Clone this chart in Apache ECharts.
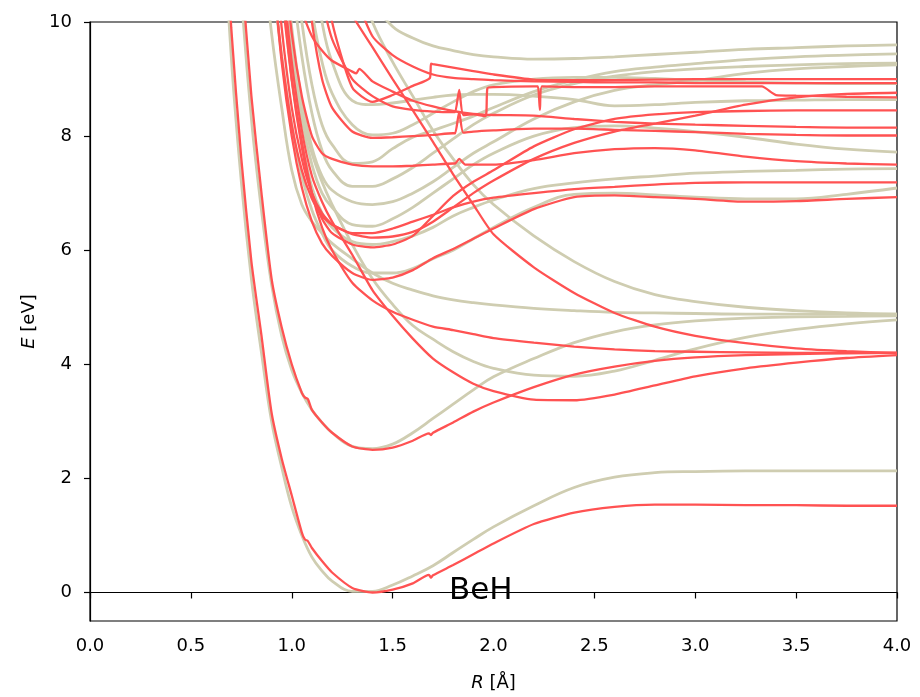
<!DOCTYPE html>
<html>
<head>
<meta charset="utf-8">
<script src="https://cdn.jsdelivr.net/npm/echarts@6/dist/echarts.min.js"></script>
<style>
html,body{margin:0;padding:0;background:#fff;}
#chart{width:920px;height:697px;}
</style>
</head>
<body>
<div id="chart"></div>
<script>
// Shared bond-length grid R [Å]
const R = [0.65,0.7,0.75,0.8,0.85,0.9,0.95,1.0,1.05,1.1,1.15,1.2,1.3,1.4,1.5,1.6,1.7,1.8,1.9,2.0,2.2,2.4,2.6,2.8,3.0,3.25,3.5,3.75,4.0];
const n = null;
const xTicks = [0,0.5,1,1.5,2,2.5,3,3.5,4];
const yTicks = [0,2,4,6,8,10];

// Reference curves (beige)
const bG1  = [12.5,9.4,7.2,5.5,4.2,3.0,2.2,1.5,1.0,0.62,0.38,0.2,0.02,0.02,0.13,0.29,0.47,0.7,0.93,1.15,1.52,1.84,2.02,2.1,2.12,2.13,2.13,2.13,2.13];
const bG2  = [n,13.5,10.5,8.3,6.7,5.4,4.5,3.9,3.5,3.2,2.98,2.8,2.56,2.52,2.6,2.8,3.05,3.3,3.55,3.78,4.1,4.38,4.57,4.69,4.76,4.81,4.83,4.84,4.85];
const bB3  = [n,n,n,n,11.5,9.8,8.5,7.4,6.8,6.5,6.3,6.12,5.85,5.6,5.42,5.3,5.2,5.13,5.08,5.04,4.98,4.94,4.91,4.9,4.89,4.88,4.88,4.88,4.88];
const bB4  = [n,n,n,n,n,n,10.6,9.3,8.4,7.7,7.2,6.8,6.1,5.5,5.05,4.68,4.44,4.22,4.05,3.93,3.81,3.79,3.88,4.07,4.27,4.47,4.61,4.71,4.78];
const bB5  = [n,n,n,n,n,n,n,n,n,n,n,12.5,11,10.0,9.3,8.7,8.1,7.6,7.15,6.8,6.25,5.8,5.45,5.22,5.1,5.0,4.94,4.9,4.88];
const bB6  = [n,n,n,n,n,11.0,9.4,8.2,7.3,6.7,6.3,6.0,5.72,5.6,5.6,5.68,5.85,6.0,6.2,6.4,6.75,6.98,7.0,6.97,6.93,6.9,6.9,6.98,7.09];
const bB7  = [n,n,n,n,n,n,10.8,9.0,7.9,7.1,6.65,6.4,6.15,6.1,6.15,6.25,6.4,6.6,6.75,6.88,7.08,7.18,7.25,7.3,7.35,7.38,7.4,7.42,7.43];
const bB8  = [n,n,n,n,n,n,11.5,9.6,8.3,7.5,7.0,6.75,6.45,6.42,6.55,6.75,7.0,7.25,7.5,7.7,8.0,8.15,8.18,8.14,8.08,7.98,7.86,7.77,7.72];
const bB13 = [n,n,n,n,n,n,11.8,9.9,8.6,7.8,7.3,7.05,6.85,6.8,6.85,7.0,7.2,7.45,7.7,7.9,8.3,8.6,8.8,8.9,8.97,9.1,9.18,9.22,9.25];
const bB12 = [n,n,n,n,n,n,n,10.8,9.4,8.4,7.75,7.4,7.12,7.12,7.25,7.45,7.7,7.95,8.2,8.4,8.72,8.92,9.05,9.13,9.18,9.22,9.25,9.27,9.28];
const bB11 = [n,n,n,n,n,n,n,11.5,10.0,8.9,8.2,7.85,7.52,7.55,7.78,7.98,8.1,8.22,8.35,8.5,8.78,8.98,9.13,9.21,9.27,9.34,9.39,9.42,9.44];
const bB14 = [n,n,n,n,n,n,n,n,11.5,10.2,9.3,8.75,8.2,8.02,8.05,8.2,8.4,8.6,8.78,8.9,9.0,9.03,9.03,9.01,8.98,8.95,8.93,8.92,8.92];
const bB9  = [n,n,n,n,n,n,n,n,n,11.2,10.0,9.3,8.62,8.55,8.58,8.63,8.68,8.72,8.73,8.73,8.7,8.64,8.53,8.55,8.59,8.62,8.63,8.64,8.64];
const bB10 = [n,n,n,n,n,n,n,n,n,n,n,n,11.5,10.4,9.92,9.72,9.58,9.5,9.43,9.39,9.35,9.36,9.39,9.43,9.47,9.52,9.55,9.58,9.6];

// Computed curves (red)
const rG1 = [13,9.9,7.6,5.8,4.5,3.15,2.35,1.7,1.05,0.78,0.55,0.35,0.08,0.0,0.05,0.16,0.3,0.48,0.67,0.86,1.2,1.4,1.5,1.54,1.54,1.53,1.53,1.52,1.52];
const rG2 = [n,14,11,8.7,7.0,5.5,4.65,4.0,3.5,3.2,2.98,2.8,2.56,2.5,2.54,2.66,2.8,2.98,3.17,3.33,3.6,3.82,3.96,4.06,4.12,4.16,4.18,4.19,4.2];
const rG3 = [n,n,n,n,n,13,11,9.3,8.1,7.3,6.85,6.5,5.92,5.3,4.85,4.45,4.1,3.86,3.66,3.53,3.38,3.37,3.47,3.63,3.79,3.93,4.03,4.11,4.16];
const rG4 = [n,n,n,n,n,12,10.5,9.0,7.9,7.0,6.4,6.0,5.43,5.12,4.92,4.78,4.66,4.6,4.53,4.46,4.38,4.31,4.26,4.23,4.22,4.21,4.2,4.2,4.2];
const rG5 = [n,n,n,n,n,n,n,n,n,n,n,10.9,10.12,9.56,9.0,8.45,7.9,7.33,6.8,6.28,5.7,5.25,4.9,4.66,4.5,4.37,4.28,4.23,4.2];
const rRa = [n,n,n,n,n,11.2,9.3,8.0,7.1,6.5,6.12,5.9,5.6,5.48,5.52,5.65,5.86,6.02,6.2,6.38,6.72,6.93,6.96,6.93,6.9,6.85,6.86,6.9,6.93];
const rRb = [n,n,n,n,n,11.0,9.4,8.2,7.4,6.9,6.6,6.45,6.3,6.3,6.38,6.5,6.62,6.75,6.85,6.92,7.0,7.07,7.11,7.15,7.18,7.19,7.19,7.19,7.19];
const rRd = [n,n,n,n,n,11.8,9.9,8.5,7.6,7.0,6.65,6.45,6.28,6.22,6.24,6.32,6.5,6.75,7.0,7.22,7.6,7.88,8.08,8.22,8.36,8.55,8.68,8.74,8.76];
const rRe = [n,n,n,n,n,n,10.8,9.0,7.8,7.0,6.55,6.3,6.1,6.05,6.1,6.25,6.6,6.95,7.2,7.4,7.82,8.12,8.3,8.38,8.42,8.44,8.45,8.45,8.45];
const rRc = [n,n,n,n,n,n,11.5,9.8,8.7,8.0,7.7,7.6,7.5,7.47,7.47,7.48,7.5,7.52,7.5,7.5,7.58,7.7,7.77,7.79,7.75,7.64,7.56,7.52,7.5];
const rRg = [n,n,n,n,n,n,n,n,11.5,10.0,9.0,8.5,8.08,7.97,7.98,8.0,8.02,8.05,8.08,8.1,8.13,8.13,8.11,8.09,8.07,8.04,8.02,8.01,8.01];
const rRf = [n,n,n,n,n,n,n,11.0,10.2,9.75,9.5,9.32,9.13,8.96,8.78,8.62,8.52,8.44,8.39,8.37,8.36,8.3,8.25,8.22,8.2,8.18,8.16,8.15,8.15];
const rRj = [n,n,n,n,n,n,n,n,n,11.5,10.4,9.7,9.0,8.7,8.52,8.46,8.43,8.42,8.38,8.86,8.87,8.86,8.86,8.87,8.87,8.87,8.71,8.69,8.68];
const rRh = [n,n,n,n,n,n,n,n,n,n,11.2,10.0,8.85,8.6,8.72,8.88,9.26,9.2,9.14,9.08,8.99,8.98,8.98,8.99,9.0,9.0,9.0,9.0,9.0];
const rRk = [n,n,n,n,n,n,n,n,n,n,n,n,10.6,9.75,9.42,9.22,9.08,9.02,9.0,8.98,8.96,8.95,8.94,8.94,8.93,8.93,8.93,8.93,8.93];

// Extra kink / jump points of the computed curves [R, E]
const rG1_k = [[1.065,0.93],[1.08,0.9],[1.68,0.31],[1.69,0.26]];
const rG2_k = [[1.065,3.42],[1.08,3.39],[1.68,2.79],[1.69,2.76]];
const rRc_k = [[1.81,7.52],[1.83,7.6],[1.86,7.5]];
const rRg_k = [[1.81,8.05],[1.83,8.42],[1.85,8.06]];
const rRf_k = [[1.32,9.1],[1.335,9.18]];
const rRj_k = [[1.81,8.42],[1.83,8.81],[1.85,8.37],[1.96,8.35],[1.97,8.84],[2.22,8.87],[2.23,8.46],[2.24,8.87],[3.33,8.87],[3.4,8.72]];
const rRh_k = [[1.685,9.02],[1.69,9.27]];

const beigeCurves = [bG1,bG2,bB3,bB4,bB5,bB6,bB7,bB8,bB13,bB12,bB11,bB14,bB9,bB10];
const redCurves = [
  [rG1,rG1_k],[rG2,rG2_k],[rG3,[]],[rG4,[]],[rG5,[]],
  [rRa,[]],[rRb,[]],[rRd,[]],[rRe,[]],[rRc,rRc_k],[rRg,rRg_k],
  [rRf,rRf_k],[rRj,rRj_k],[rRh,rRh_k],[rRk,[]]
];

function build(vals, extra){
  const pts = R.map((x,i)=>[x, vals[i]]).filter(p=>p[1]!==null);
  return pts.concat(extra || []).sort((a,b)=>a[0]-b[0]);
}

const BEIGE = '#cfcdb1';
const RED = '#ff5252';
const series = [];
beigeCurves.forEach(c=>{
  series.push({type:'line', data:build(c,[]), showSymbol:false, symbol:'none',
    smooth:0.4, lineStyle:{color:BEIGE,width:2.8}, z:2, silent:true});
});
redCurves.forEach(([c,k])=>{
  series.push({type:'line', data:build(c,k), showSymbol:false, symbol:'none',
    smooth:0.2, lineStyle:{color:RED,width:2.3}, z:3, silent:true});
});

const FONT = 'DejaVu Sans';
const chart = echarts.init(document.getElementById('chart'), null, {renderer:'canvas'});
chart.setOption({
  animation:false,
  backgroundColor:'#fff',
  grid:{left:90,right:23,top:22,bottom:75,show:true,borderColor:'#000',borderWidth:1.2,backgroundColor:'transparent'},
  xAxis:{type:'value',min:0,max:4,interval:0.5,
    name:'{i|R} [Å]',nameLocation:'middle',nameGap:53,
    nameTextStyle:{fontFamily:FONT,fontSize:18,color:'#000',rich:{i:{fontStyle:'italic',fontFamily:FONT,fontSize:18,color:'#000'}}},
    axisLine:{show:true,lineStyle:{color:'#000',width:1.2}},
    axisTick:{show:true,inside:false,length:6,lineStyle:{color:'#000',width:1.2}},
    axisLabel:{margin:16,fontFamily:FONT,fontSize:18,color:'#000',formatter:v=>v.toFixed(1)},
    splitLine:{show:false}},
  yAxis:{type:'value',min:-0.5,max:10,
    name:'{i|E} [eV]',nameLocation:'middle',nameGap:52,nameRotate:90,
    nameTextStyle:{fontFamily:FONT,fontSize:18,color:'#000',rich:{i:{fontStyle:'italic',fontFamily:FONT,fontSize:18,color:'#000'}}},
    axisLine:{show:true,lineStyle:{color:'#000',width:1.2}},
    axisTick:{show:true,inside:false,length:6,customValues:yTicks,lineStyle:{color:'#000',width:1.2}},
    axisLabel:{margin:18,fontFamily:FONT,fontSize:18,color:'#000',customValues:yTicks},
    splitLine:{show:false}},
  graphic:[{type:'text',left:449,top:575,style:{text:'BeH',font:'31px "DejaVu Sans"',fill:'#000'},z:10}],
  series:series
});
</script>
</body>
</html>
